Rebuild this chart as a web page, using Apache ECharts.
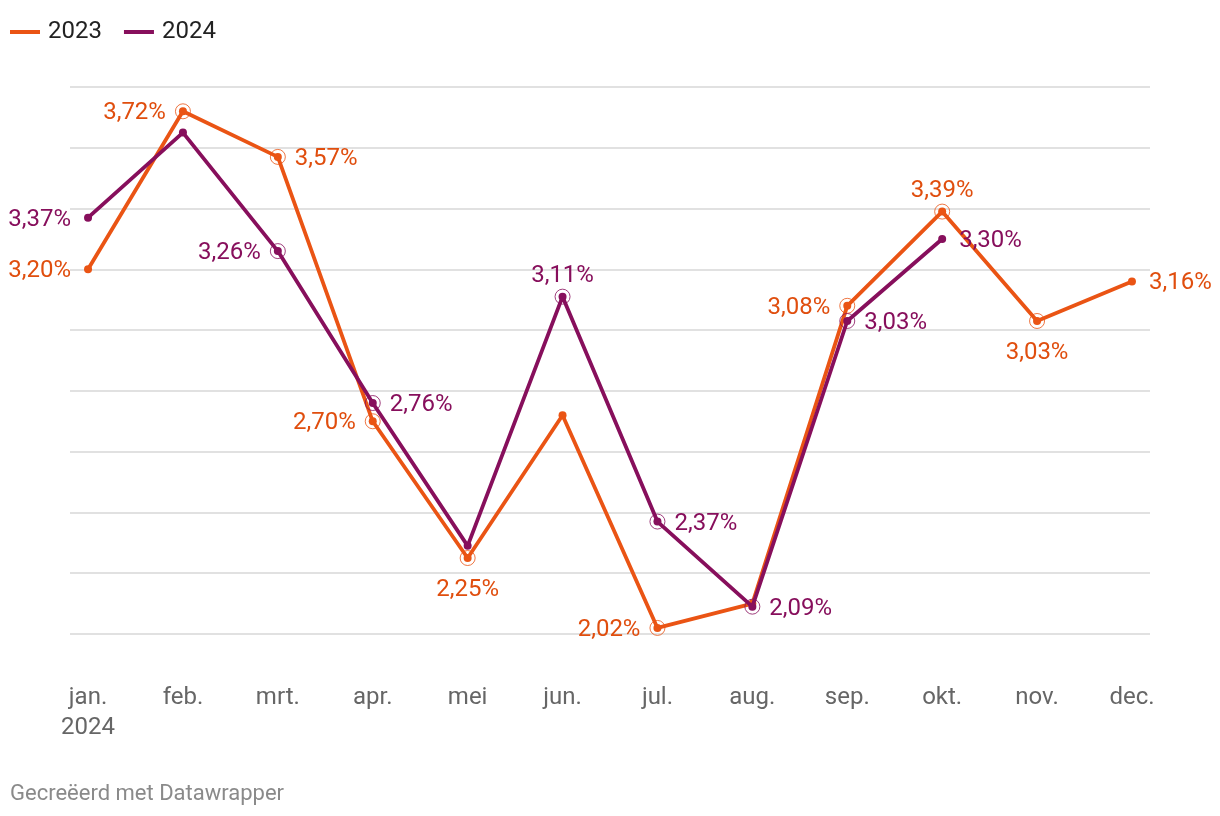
<!DOCTYPE html>
<html><head><meta charset="utf-8">
<script src="https://cdn.jsdelivr.net/npm/echarts@6/dist/echarts.min.js"></script>
<style>html,body{margin:0;padding:0;background:#fff}#c{width:1220px;height:816px}</style>
</head><body><div id="c"></div>
<script>
const months = ['jan.\n2024','feb.','mrt.','apr.','mei','jun.','jul.','aug.','sep.','okt.','nov.','dec.'];
const values2023 = [3.20, 3.72, 3.57, 2.70, 2.25, 2.72, 2.02, 2.10, 3.08, 3.39, 3.03, 3.16];
const values2024 = [3.37, 3.65, 3.26, 2.76, 2.29, 3.11, 2.37, 2.09, 3.03, 3.30];
// label position per point (null = no label)
const labels2023 = ['left','left','right','left','bottom',null,'left',null,'left','top','bottom','right'];
const labels2024 = ['left',null,'left','right',null,'top','right','right','right','right'];
// ring marker on labelled intermediate points
const rings2023 = [false,true,true,true,true,false,true,false,true,true,true,false];
const rings2024 = [false,false,true,true,false,true,true,true,true,false];

const C23 = '#ea5414', C24 = '#870f5c';
const T23 = '#e04e0e', T24 = '#870f5c';
const fmt = v => v.toFixed(2).replace('.', ',') + '%';
const dist = { left: 13, right: 13, top: 7, bottom: 14 };

function lineData(vals, labs, col) {
  return vals.map((v, i) => ({
    value: [i, v],
    label: labs[i] ? { show: true, position: labs[i], distance: dist[labs[i]], offset: [0, 2],
      formatter: () => fmt(v), color: col, fontSize: 24, fontFamily: 'Roboto' } : { show: false }
  }));
}
function ringData(vals, rings) {
  return vals.map((v, i) => rings[i] ? [i, v] : null).filter(d => d);
}

const chart = echarts.init(document.getElementById('c'), null, { renderer: 'canvas' });
chart.setOption({
  animation: false,
  textStyle: { fontFamily: 'Roboto' },
  legend: {
    left: 5, top: 15, itemWidth: 30, itemHeight: 4, itemGap: 22, icon: 'rect',
    textStyle: { fontSize: 24, color: '#222', fontFamily: 'Roboto', padding: [0,0,0,3] },
    data: ['2023', '2024']
  },
  title: {
    text: 'Gecreëerd met Datawrapper', left: 5, top: 778,
    textStyle: { fontSize: 22, fontWeight: 'normal', color: '#8a8a8a', fontFamily: 'Roboto' }
  },
  grid: { left: 70, right: 70, top: 87, bottom: 182 },
  xAxis: {
    type: 'value', min: -0.19, max: 11.19,
    axisLine: { show: false }, axisTick: { show: false }, splitLine: { show: false },
    axisLabel: {
      customValues: months.map((m, i) => i), formatter: v => months[Math.round(v)],
      color: '#666', fontSize: 24, fontFamily: 'Roboto', margin: 49, verticalAlign: 'top', lineHeight: 30
    }
  },
  yAxis: {
    type: 'value', min: 2.0, max: 3.8, interval: 0.2,
    axisLabel: { show: false }, axisLine: { show: false }, axisTick: { show: false },
    splitLine: { lineStyle: { color: '#e1e1e1', width: 2 } }
  },
  series: [
    { name: '2023', type: 'line', data: lineData(values2023, labels2023, T23), color: C23,
      lineStyle: { width: 3.8, color: C23 }, symbol: 'circle', symbolSize: 8, showAllSymbol: true,
      itemStyle: { color: C23 }, z: 3 },
    { name: '2024', type: 'line', data: lineData(values2024, labels2024, T24), color: C24,
      lineStyle: { width: 3.8, color: C24 }, symbol: 'circle', symbolSize: 8, showAllSymbol: true,
      itemStyle: { color: C24 }, z: 4 },
    { name: 'r23', type: 'scatter', data: ringData(values2023, rings2023), symbol: 'circle', symbolSize: 15,
      itemStyle: { color: 'rgba(0,0,0,0)', borderColor: C23, borderWidth: 1 }, z: 5, silent: true },
    { name: 'r24', type: 'scatter', data: ringData(values2024, rings2024), symbol: 'circle', symbolSize: 15,
      itemStyle: { color: 'rgba(0,0,0,0)', borderColor: C24, borderWidth: 1 }, z: 5, silent: true }
  ]
});
</script></body></html>
